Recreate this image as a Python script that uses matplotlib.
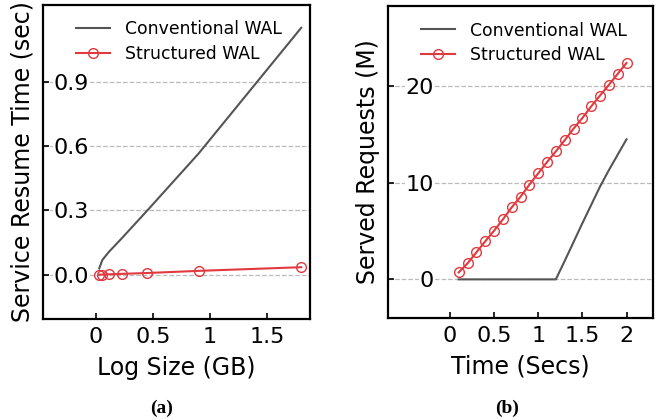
import matplotlib
matplotlib.use("Agg")
import matplotlib.pyplot as plt

# Panel (a) data
log_size_gb = [0.028, 0.056, 0.1125, 0.225, 0.45, 0.9, 1.8]
conv_resume = [0.03, 0.07, 0.107, 0.17, 0.30, 0.565, 1.15]
struct_resume = [0.001, 0.002, 0.003, 0.005, 0.009, 0.019, 0.036]

# Panel (b) data
time_secs = [0.1, 0.2, 0.3, 0.4, 0.5, 0.6, 0.7, 0.8, 0.9, 1.0,
             1.1, 1.2, 1.3, 1.4, 1.5, 1.6, 1.7, 1.8, 1.9, 2.0]
conv_served = [0, 0, 0, 0, 0, 0, 0, 0, 0, 0,
               0, 0, 1.9, 3.85, 5.8, 7.7, 9.6, 11.3, 12.9, 14.5]
struct_served = [0.72, 1.65, 2.79, 3.93, 5.03, 6.2, 7.45, 8.55, 9.8, 10.97,
                 12.14, 13.25, 14.4, 15.6, 16.7, 17.9, 19.03, 20.13, 21.27, 22.4]

a_yticks = [0.0, 0.3, 0.6, 0.9]
a_xticks = [0, 0.5, 1, 1.5]
a_xticklabels = ["0", "0.5", "1", "1.5"]
b_yticks = [0, 10, 20]
b_xticks = [0, 0.5, 1, 1.5, 2]
b_xticklabels = ["0", "0.5", "1", "1.5", "2"]

GRAY = "#555555"
RED = "#e0393e"

fig = plt.figure(figsize=(6.56, 4.19), dpi=100)
W, H = 656, 419
def pos(l, r, t, b):
    return [l / W, 1 - b / H, (r - l) / W, (b - t) / H]

ax1 = fig.add_axes(pos(43, 310, 5, 319))
ax2 = fig.add_axes(pos(388, 653, 6, 318))

def style(ax):
    for s in ax.spines.values():
        s.set_linewidth(1.6)
    ax.tick_params(axis='both', direction='in', labelsize=16, width=1.2, length=4)
    ax.tick_params(axis='y', pad=-33)
    ax.tick_params(axis='x', pad=6)
    ax.grid(axis='y', linestyle='--', color='#bbbbbb', linewidth=0.9)
    ax.set_axisbelow(True)
    for lab in ax.get_yticklabels():
        lab.set_bbox(dict(facecolor='white', edgecolor='none', pad=0.5))

ax1.plot(log_size_gb, conv_resume, color=GRAY, lw=1.5, label="Conventional WAL")
ax1.plot(log_size_gb, struct_resume, color=RED, lw=1.5, marker='o', ms=7,
         mfc='none', mec=RED, mew=1.0, label="Structured WAL")
ax1.set_xlim(-0.465, 1.877)
ax1.set_ylim(-0.205, 1.256)
ax1.set_yticks(a_yticks)
ax1.set_xticks(a_xticks)
ax1.set_xticklabels(a_xticklabels)
ax1.set_xlabel("Log Size (GB)", fontsize=17, labelpad=6)
ax1.set_ylabel("Service Resume Time (sec)", fontsize=17, labelpad=6)
style(ax1)
ax1.legend(loc='upper left', bbox_to_anchor=(0.065, 1.0), frameon=False, fontsize=12.4,
           handlelength=2.0, handletextpad=0.85, labelspacing=0.4)

ax2.plot(time_secs, conv_served, color=GRAY, lw=1.5, label="Conventional WAL")
ax2.plot(time_secs, struct_served, color=RED, lw=1.5, marker='o', ms=7,
         mfc='none', mec=RED, mew=1.0, label="Structured WAL")
ax2.set_xlim(-0.70, 2.30)
ax2.set_ylim(-4.0, 28.3)
ax2.set_yticks(b_yticks)
ax2.set_xticks(b_xticks)
ax2.set_xticklabels(b_xticklabels)
ax2.set_xlabel("Time (Secs)", fontsize=17, labelpad=6)
ax2.set_ylabel("Served Requests (M)", fontsize=17, labelpad=6)
style(ax2)
ax2.legend(loc='upper left', bbox_to_anchor=(0.065, 1.0), frameon=False, fontsize=12.4,
           handlelength=2.0, handletextpad=0.85, labelspacing=0.4)

fig.text(162 / W, 1 - 408 / H, "(a)", ha='center', va='center',
         fontfamily='Liberation Serif', fontweight='bold', fontsize=14)
fig.text(507 / W, 1 - 408 / H, "(b)", ha='center', va='center',
         fontfamily='Liberation Serif', fontweight='bold', fontsize=14)

fig.savefig("out.png", dpi=100)
